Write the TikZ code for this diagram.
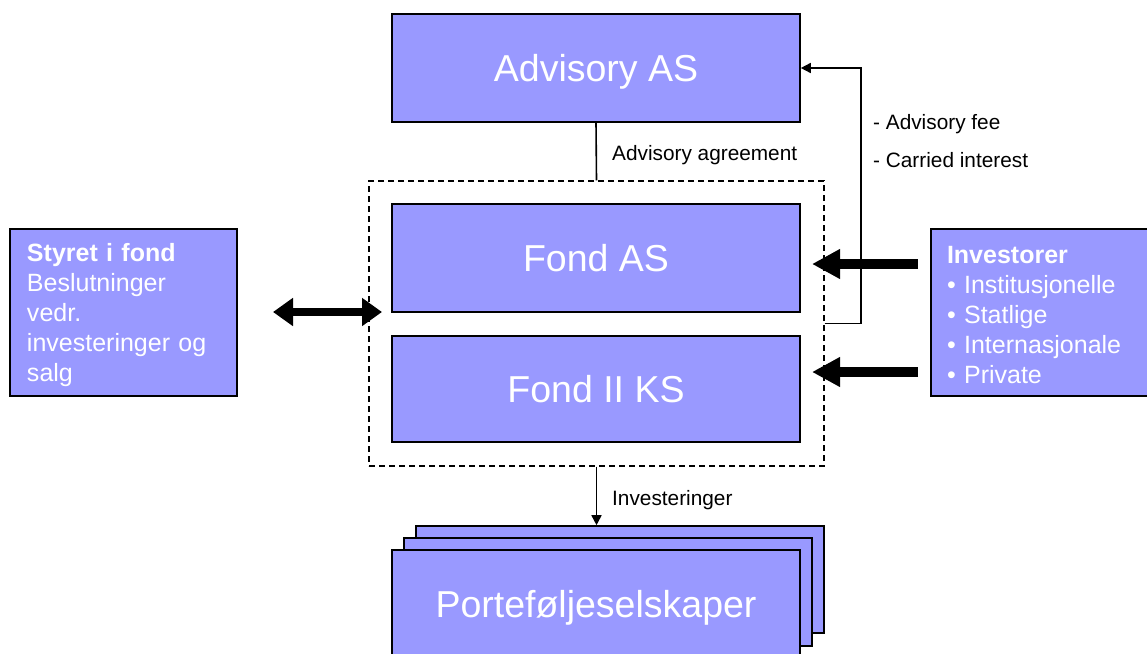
\documentclass[tikz,border=0pt]{standalone}
\usepackage{fontspec}
\setmainfont{Liberation Sans}
\usetikzlibrary{arrows.meta}
\definecolor{boxblue}{HTML}{9999FF}
\tikzset{
  bluebox/.style={draw=black, line width=1.6pt, fill=boxblue, text=white, inner sep=0pt},
  bigbox/.style={bluebox, minimum width=408pt, minimum height=108pt, text height=29pt, text depth=2pt, font=\fontsize{37.5}{42}\selectfont},
  sidebox/.style={bluebox, minimum width=227pt, minimum height=167pt},
  sidetext/.style={inner sep=0pt, text=white, text width=193pt, align=left, font=\fontsize{25}{30}\selectfont},
  lbl/.style={anchor=west, inner sep=0pt, font=\fontsize{20.8}{24}\selectfont},
  thin/.style={line width=1.6pt},
  thinarrow/.style={thin, -{Triangle[length=10pt,width=10pt]}},
  fatarrow/.style={line width=10pt, -{Triangle[length=28pt,width=28pt]}},
  dblarrow/.style={line width=8pt, {Triangle[length=20pt,width=27pt]}-{Triangle[length=20pt,width=27pt]}}
}
\begin{document}
\begin{tikzpicture}[x=1pt,y=-1pt]
\clip (0,0) rectangle (1147,653);
\fill[white] (0,0) rectangle (1147,653);
% main boxes
\node[bigbox] (adv) at (596,68) {Advisory AS};
\node[draw, dash pattern=on 6pt off 4pt, line width=1.4pt, minimum width=455pt, minimum height=285pt, inner sep=0pt] (dash) at (596.5,323.5) {};
\node[bigbox] (fas) at (596,258) {Fond AS};
\node[bigbox, minimum height=106pt] (fks) at (596,389) {Fond II KS};
% side boxes
\node[sidebox] (sty) at (123.5,312.5) {};
\node[sidetext] (styt) at (123.5,315.5) {\textbf{Styret i fond}\\Beslutninger\\vedr.\\investeringer og\\salg};
\node[sidebox, minimum width=232pt] (inv) at (1047,312.5) {};
\node[sidetext, text width=200pt] (invt) at (1047,315.5) {\textbf{Investorer}\\• Institusjonelle\\• Statlige\\• Internasjonale\\• Private};
% portfolio stack
\node[bigbox, minimum height=107pt] (pback) at (620,579.5) {};
\node[bigbox] (pmid) at (608,592) {};
\node[bigbox] (pfront) at (596,604) {Porteføljeselskaper};
% connectors
\draw[thin] (adv.south) -- (dash.north);
\node[lbl] (lagr) at (612,155) {Advisory agreement};
\draw[thinarrow] (dash.south) -- (dash.south |- pback.north);
\node[lbl] (linv) at (612,500) {Investeringer};
\coordinate (fbx) at (861,0);
\draw[thinarrow] (dash.east) -| (fbx |- adv.east) -- (adv.east);
\node[lbl] (lfee) at (873,124) {- Advisory fee};
\node[lbl] (lcar) at (873,160) {- Carried interest};
% thick arrows
\coordinate (a1s) at (918,264);
\coordinate (a1e) at (812,264);
\coordinate (a2s) at (918,372);
\coordinate (a2e) at (812,372);
\coordinate (d1) at (273,312);
\coordinate (d2) at (382,312);
\draw[fatarrow] (a1s) -- (a1e);
\draw[fatarrow] (a2s) -- (a2e);
\draw[dblarrow] (d1) -- (d2);
\end{tikzpicture}
\end{document}
